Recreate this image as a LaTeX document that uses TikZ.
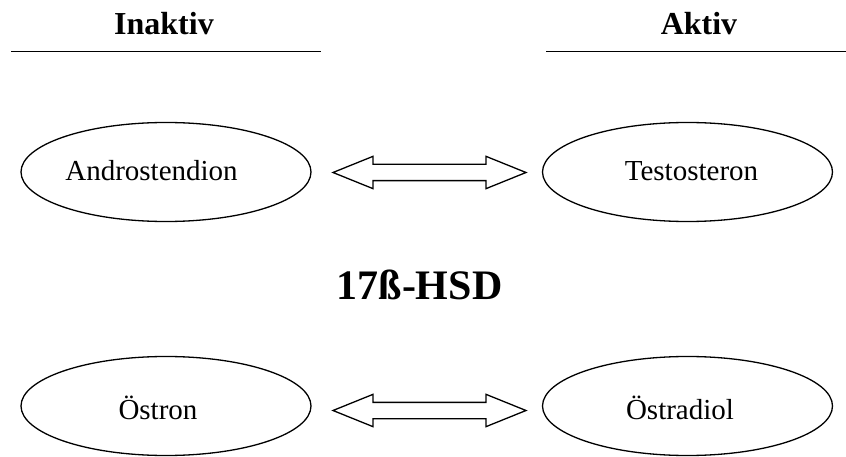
\documentclass[tikz,border=0pt]{standalone}
\usepackage{fontspec}
\setmainfont{Liberation Serif}
\usetikzlibrary{shapes.geometric,shapes.arrows}
\begin{document}
\begin{tikzpicture}[x=1pt,y=-1pt,
  oval/.style={draw,ellipse,line width=1.3pt,minimum width=290pt,minimum height=99pt,inner sep=0pt},
  lbl/.style={anchor=base,inner sep=0pt,font=\fontsize{29}{32}\selectfont},
  head/.style={anchor=base,inner sep=0pt,font=\fontsize{32}{36}\selectfont\bfseries},
  rule/.style={line width=1.8pt},
  dbl/.style={draw,double arrow,line width=1.3pt,minimum height=193pt,inner sep=7.5pt,
    double arrow head extend=8pt,double arrow tip angle=44},
]
\useasboundingbox (0,0) rectangle (846,457);
\node[head] (inakt) at (164,35) {Inaktiv};
\node[head] (akt) at (699,35) {Aktiv};
\coordinate (l1) at (11,51.5); \coordinate (l2) at (321,51.5);
\coordinate (r1) at (546,51.5); \coordinate (r2) at (846,51.5);
\draw[rule] (l1) -- (l2);
\draw[rule] (r1) -- (r2);
\node[oval] (andro) at (166,172) {};
\node[oval] (testo) at (687.5,172) {};
\node[oval] (oestron) at (166,406) {};
\node[oval] (oestradiol) at (687.5,406) {};
\node[lbl] (tandro) at (151.5,181) {Androstendion};
\node[lbl] (ttesto) at (691.5,181) {Testosteron};
\node[lbl] (toestron) at (158,419) {Östron};
\node[lbl] (toestradiol) at (680,419) {Östradiol};
\node[dbl] (a1) at (429.5,172.5) {};
\node[dbl] (a2) at (429.5,410.5) {};
\node[anchor=base,inner sep=0pt,font=\fontsize{42}{46}\selectfont\bfseries] (hsd) at (419.5,299) {17ß-HSD};
\end{tikzpicture}
\end{document}
